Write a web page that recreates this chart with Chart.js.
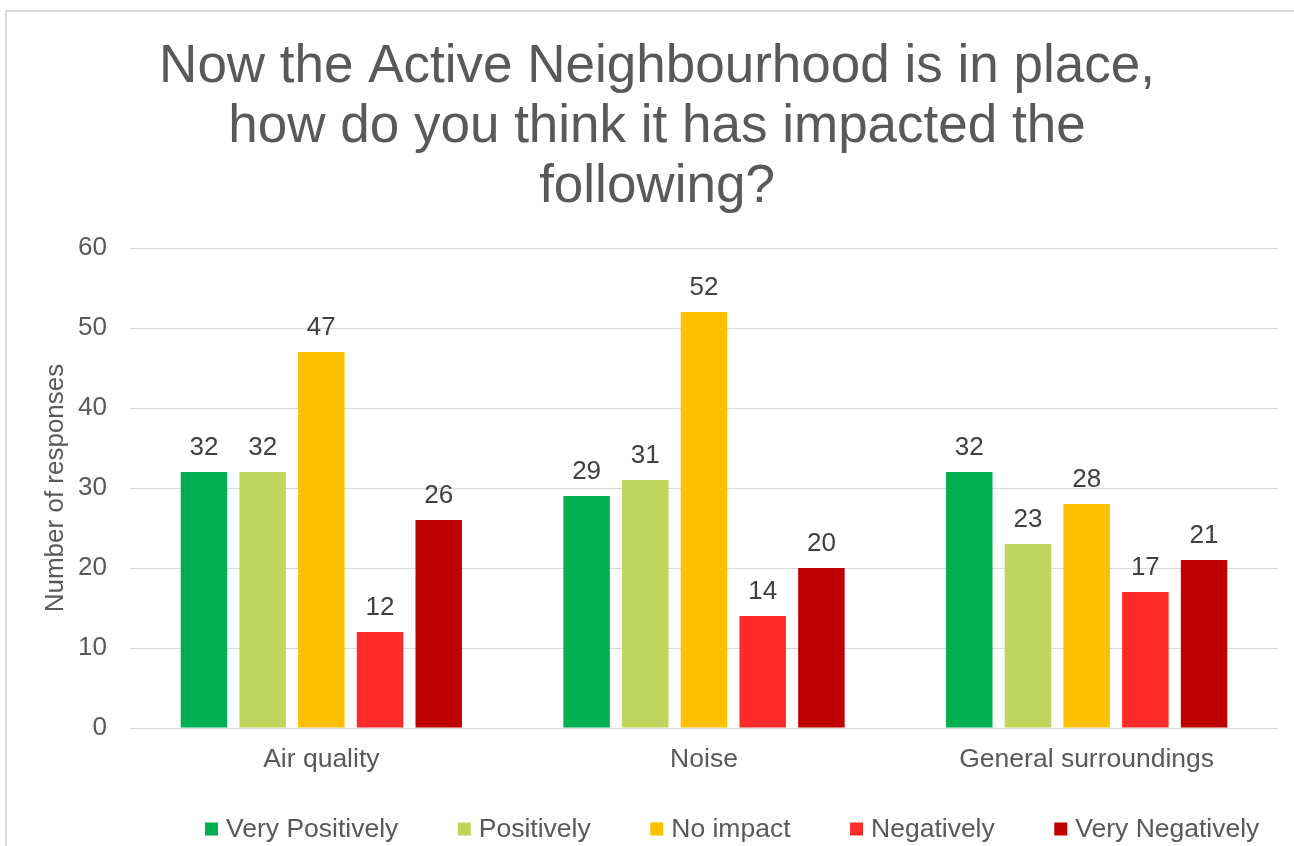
<!DOCTYPE html>
<html>
<head>
<meta charset="utf-8">
<script src="https://cdn.jsdelivr.net/npm/chart.js@4/dist/chart.umd.min.js"></script>
<style>
  html, body { margin: 0; padding: 0; background: #ffffff; }
  #wrap { position: relative; width: 1294px; height: 846px; overflow: hidden; }
  canvas { position: absolute; left: 0; top: 0; }
</style>
</head>
<body>
<div id="wrap"><canvas id="c" width="1294" height="846"></canvas></div>
<script>
const titleLines = ['Now the Active Neighbourhood is in place,', 'how do you think it has impacted the', 'following?'];
const categories = ['Air quality', 'Noise', 'General surroundings'];
const seriesNames = ['Very Positively', 'Positively', 'No impact', 'Negatively', 'Very Negatively'];
const veryPositively = [32, 29, 32];
const positively = [32, 31, 23];
const noImpact = [47, 52, 28];
const negatively = [12, 14, 17];
const veryNegatively = [26, 20, 21];
const seriesColors = ['#00B050', '#C0D55B', '#FFC000', '#FF2A2A', '#C00000'];
const yMin = 0, yMax = 60, yStep = 10;
const yAxisTitle = 'Number of responses';

const FONT = "'Liberation Sans', Arial, sans-serif";
const TEXT = '#595959';

const seriesValues = [veryPositively, positively, noImpact, negatively, veryNegatively];

const framePlugin = {
  id: 'frame',
  beforeDraw(chart) {
    const ctx = chart.ctx;
    ctx.save();
    ctx.fillStyle = '#ffffff';
    ctx.fillRect(0, 0, chart.width, chart.height);
    ctx.strokeStyle = '#d9d9d9';
    ctx.lineWidth = 2;
    ctx.beginPath();
    ctx.moveTo(6, chart.height + 2);
    ctx.lineTo(6, 11);
    ctx.lineTo(chart.width + 2, 11);
    ctx.stroke();
    ctx.restore();
  }
};

const titlePlugin = {
  id: 'bigTitle',
  afterDraw(chart) {
    const ctx = chart.ctx;
    ctx.save();
    ctx.font = '53px ' + FONT;
    ctx.fillStyle = TEXT;
    ctx.textAlign = 'center';
    ctx.textBaseline = 'alphabetic';
    const baselines = [82, 142, 202];
    titleLines.forEach((t, i) => ctx.fillText(t, 657, baselines[i]));
    ctx.restore();
  }
};

const valueLabelPlugin = {
  id: 'valueLabels',
  afterDatasetsDraw(chart) {
    const ctx = chart.ctx;
    ctx.save();
    ctx.font = '26px ' + FONT;
    ctx.fillStyle = '#404040';
    ctx.textAlign = 'center';
    ctx.textBaseline = 'alphabetic';
    chart.data.datasets.forEach((ds, di) => {
      const meta = chart.getDatasetMeta(di);
      meta.data.forEach((bar, i) => {
        ctx.fillText(String(ds.data[i]), bar.x, bar.y - 17);
      });
    });
    ctx.restore();
  }
};

const legendPlugin = {
  id: 'customLegend',
  afterDraw(chart) {
    const ctx = chart.ctx;
    ctx.save();
    ctx.font = '26.5px ' + FONT;
    ctx.textBaseline = 'middle';
    ctx.textAlign = 'left';
    const box = 13, boxGap = 8, itemGap = 59.5, cy = 829;
    let x = 205;
    chart.data.datasets.forEach((ds) => {
      ctx.fillStyle = ds.backgroundColor;
      ctx.fillRect(x, cy - box / 2, box, box);
      ctx.fillStyle = TEXT;
      ctx.fillText(ds.label, x + box + boxGap, cy + 1);
      x += box + boxGap + ctx.measureText(ds.label).width + itemGap;
    });
    ctx.restore();
  }
};

const datasets = seriesNames.map((name, i) => ({
  label: name,
  data: seriesValues[i],
  backgroundColor: seriesColors[i],
  borderWidth: 0,
  categoryPercentage: 0.767,
  barPercentage: 0.792
}));

new Chart(document.getElementById('c'), {
  type: 'bar',
  data: { labels: categories, datasets },
  options: {
    responsive: false,
    animation: false,
    devicePixelRatio: 1,
    layout: { padding: { top: 248, right: 16, bottom: 0, left: 0 } },
    plugins: {
      legend: { display: false },
      title: { display: false },
      tooltip: { enabled: false }
    },
    scales: {
      x: {
        afterFit(scale) { scale.height = 118; },
        grid: { display: false, drawTicks: false },
        border: { display: false },
        ticks: { color: TEXT, font: { family: FONT, size: 26.5 }, padding: 16, maxRotation: 0 }
      },
      y: {
        min: yMin, max: yMax,
        afterFit(scale) { scale.width = 130; },
        grid: { color: '#d9d9d9', lineWidth: 1, drawTicks: false },
        border: { display: false },
        ticks: { stepSize: yStep, color: TEXT, font: { family: FONT, size: 26 }, padding: 23 },
        title: { display: true, text: yAxisTitle, color: TEXT, font: { family: FONT, size: 26 }, padding: { top: 40, bottom: 0 } }
      }
    }
  },
  plugins: [framePlugin, valueLabelPlugin, titlePlugin, legendPlugin]
});
</script>
</body>
</html>
